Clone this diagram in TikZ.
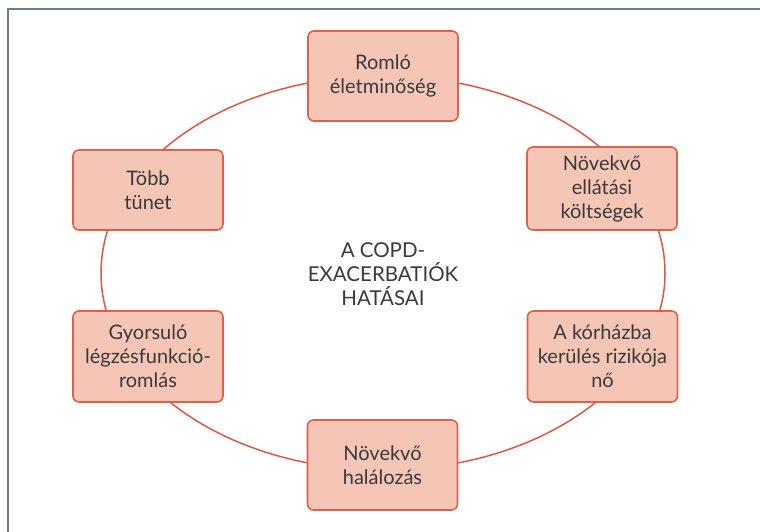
\documentclass[tikz,border=0pt]{standalone}
\usepackage{fontspec}
\setmainfont{Lato}
\definecolor{frameline}{HTML}{6E7E8E}
\definecolor{boxfill}{HTML}{F5C6B6}
\definecolor{boxdraw}{HTML}{E0604A}
\definecolor{ringcol}{HTML}{E2583F}
\definecolor{txtcol}{HTML}{3A3A3A}
\begin{document}
\begin{tikzpicture}[x=1pt,y=-1pt,
  effbox/.style={draw=boxdraw,fill=boxfill,line width=1.6pt,rounded corners=6pt,
    minimum width=150pt,align=center,text=txtcol,
    font=\fontsize{20}{24}\selectfont,inner sep=1pt},
  ring/.style={draw=ringcol,line width=1.5pt},
  centertext/.style={align=center,text=txtcol,font=\fontsize{20.5}{24}\selectfont}]
\useasboundingbox (0,0) rectangle (760,532);
\fill[white] (0,0) rectangle (760,532);
\draw[frameline,line width=1.4pt] (8,532) -- (8,9) -- (760,9);
\coordinate (ringc) at (383,273);
\draw[ring] (ringc) ellipse [x radius=282pt, y radius=197pt];
\node[effbox,minimum height=90pt] (top) at (383,76) {Romló\\életminőség};
\node[effbox,minimum height=83pt] (ru) at (602,188.5) {Növekvő\\ellátási\\költségek};
\node[effbox,minimum height=91pt] (rl) at (602.5,356.5) {A kórházba\\kerülés rizikója\\nő};
\node[effbox,minimum height=90pt] (bot) at (382.5,465) {Növekvő\\halálozás};
\node[effbox,minimum height=91pt] (ll) at (148,356.5) {Gyorsuló\\légzésfunkció-\\romlás};
\node[effbox,minimum height=80pt] (lu) at (148,190) {Több\\tünet};
\node[centertext] (ctr) at (383,274) {A COPD-\\EXACERBATIÓK\\HATÁSAI};
\end{tikzpicture}
\end{document}
